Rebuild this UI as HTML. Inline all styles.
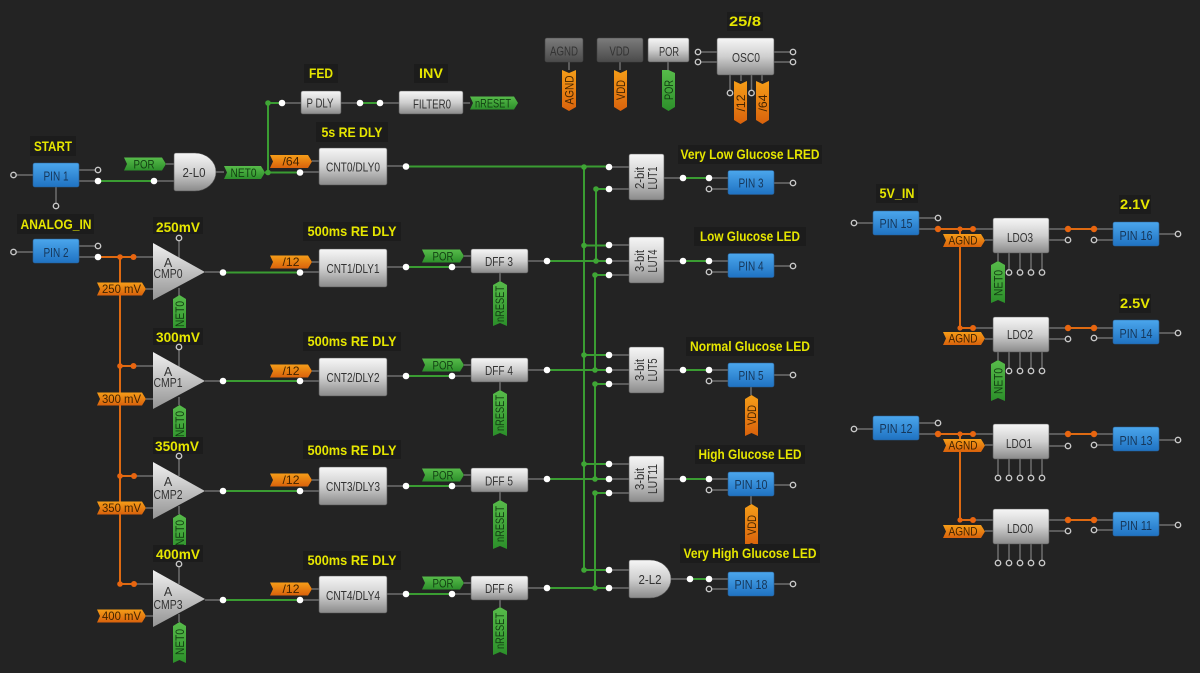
<!DOCTYPE html>
<html><head><meta charset="utf-8"><style>
html,body{margin:0;padding:0;background:#232323}
svg{display:block}
text{font-family:"Liberation Sans",sans-serif;text-anchor:middle}
.n{fill:url(#gn);stroke:#555;stroke-width:.6}
.d{fill:url(#gd);stroke:#444;stroke-width:.6}
.p{fill:url(#gb);stroke:#2a5f94;stroke-width:.6}
.fg{fill:url(#gg)}
.fo{fill:url(#go)}
.f{fill:#fff}
.o{fill:#232323;stroke:#c8c8c8;stroke-width:1.4}
.jg{fill:#3fa535}
.jo{fill:#e8650f}
.t{font-size:12.5px;fill:#333}
.tp{font-size:12.5px;fill:#16375a}
.tg{font-size:12px;fill:#123f12}
.to{font-size:12px;fill:#432400}
.l{font-size:14px;font-weight:bold;fill:#e6e600}
.lb{fill:#1c1c1c}
</style></head><body>
<svg width="1200" height="673" viewBox="0 0 1200 673" xmlns="http://www.w3.org/2000/svg">
<defs>
<linearGradient id="gn" x1="0" y1="0" x2="0" y2="1"><stop offset="0" stop-color="#f6f6f6"/><stop offset=".5" stop-color="#cfcfcf"/><stop offset="1" stop-color="#8a8a8a"/></linearGradient>
<linearGradient id="gd" x1="0" y1="0" x2="0" y2="1"><stop offset="0" stop-color="#7c7c7c"/><stop offset="1" stop-color="#4a4a4a"/></linearGradient>
<linearGradient id="gb" x1="0" y1="0" x2="0" y2="1"><stop offset="0" stop-color="#4ba6ec"/><stop offset="1" stop-color="#1f72c2"/></linearGradient>
<linearGradient id="gg" x1="0" y1="0" x2="0" y2="1"><stop offset="0" stop-color="#57bb4a"/><stop offset="1" stop-color="#2c8f2a"/></linearGradient>
<linearGradient id="go" x1="0" y1="0" x2="0" y2="1"><stop offset="0" stop-color="#f59d18"/><stop offset="1" stop-color="#d9620c"/></linearGradient>
<linearGradient id="gt" x1="0" y1="0" x2="0" y2="1"><stop offset="0" stop-color="#f0f0f0"/><stop offset="1" stop-color="#949494"/></linearGradient>
</defs>
<rect width="1200" height="673" fill="#232323"/>

<!-- gray stubs -->
<path fill="none" stroke="#6e6e6e" stroke-width="1.5" d="
M13.5 175H33M79 170H98M79 181H98M56 187V206M154 181H174M166 164H174M216 172H224
M300 172H319M312 161H319M387 166H406M282 103H301M341 103H360M380 103H399M463 103H470
M13.5 252H33M79 246H98M79 257H98M133 257H153M146 289H153M205 272H223M179 238V258M179 288V296
M300 272H319M312 262H319M387 267H406M452 267H471M464 256H471M528 261H547M500 273V281
M609 167H629M609 189H629M664 178H683M709 178H728M709 189H728M774 183H793
M609 245H629M609 261H629M609 275H629M664 261H683M709 261H728M709 272H728M774 266H793
M133 366H153M146 399H153M205 381H223M179 347V367M179 397V405
M300 381H319M312 371H319M387 376H406M452 376H471M464 365H471M528 370H547M500 382V390
M609 355H629M609 370H629M609 384H629M664 370H683M709 370H728M709 381H728M774 375H793M751 387V395
M134 476H153M146 508H153M205 491H223M179 456V476M179 506V514
M300 491H319M312 480H319M387 486H406M452 486H471M464 475H471M528 479H547M500 492V500
M609 464H629M609 479H629M609 493H629M664 479H683M709 479H728M709 490H728M774 485H793M751 496V504
M134 584H153M146 616H153M205 600H223M179 564V584M179 614V622
M300 600H319M312 589H319M387 594H406M452 594H471M464 583H471M528 588H547M500 600V607
M609 570H629M609 588H629M671 579H690M709 579H728M709 589H728M774 584H793
M854 223H873M919 218H938M919 229H938M973 229H993M985 240H993M1049 229H1068M1049 240H1068M1094 229H1113M1094 240H1113M1159 234H1178
M998 253V261M1009 253V272M1020 253V272M1031 253V272M1042 253V272
M973 328H993M985 339H993M1049 328H1068M1049 339H1068M1094 328H1113M1094 338H1113M1159 333H1178
M998 352V360M1009 352V371M1020 352V371M1031 352V371M1042 352V371
M854 429H873M919 423H938M919 434H938M973 434H993M985 445H993M1049 434H1068M1049 446H1068M1094 434H1113M1094 445H1113M1159 440H1178
M998 459V478M1009 459V478M1020 459V478M1031 459V478M1042 459V478
M973 520H993M985 531H993M1049 520H1068M1049 531H1068M1094 520H1113M1094 530H1113M1159 525H1178
M998 544V563M1009 544V563M1020 544V563M1031 544V563M1042 544V563
M569 62V70M620 62V70M668 62V70M698 52H717M698 62H717M774 52H793M774 62H793M730 75V93M741 75V81M751.5 75V93M762 75V81"/>

<!-- green wires -->
<path fill="none" stroke="#3a9c32" stroke-width="2" d="
M98 181H154M265 172.500H300M268 172.500V103H282M360 103H380M406 166.500H609
M223 272.500H300M406 267H452M547 261H609
M223 381H300M406 376H452M547 370H609
M223 491H300M406 486H452M547 479H609
M223 600H300M406 594H452M547 588H609
M584 167V570M596 189V261M595 275V370M595 384V479M595 493V588
M596 189H609M584 245.500H609M595 275H609M584 355H609M595 384H609M584 464H609M595 493H609M584 570H609
M683 178H709M683 261H709M683 370H709M683 479H709M690 579H709"/>
<!-- orange wires -->
<path fill="none" stroke="#de6a12" stroke-width="2" d="
M98 257H133M120 257V584H134M120 366H133M120 476H134
M938 229H973M960 229V328H973M1068 229H1094M1068 328H1094
M938 434H973M960 434V520H973M1068 434H1094M1068 520H1094"/>

<!-- orange horizontal flags -->
<g class="fo">
<polygon points="270,155 308,155 312,161.500 308,168 270,168 273,161.500"/>
<polygon points="270,255.500 308,255.500 312,262 308,268.500 270,268.500 273,262"/>
<polygon points="270,364.500 308,364.500 312,371 308,377.500 270,377.500 273,371"/>
<polygon points="270,473.500 308,473.500 312,480 308,486.500 270,486.500 273,480"/>
<polygon points="270,582.500 308,582.500 312,589 308,595.500 270,595.500 273,589"/>
<polygon points="97,282.500 142,282.500 146,289 142,295.500 97,295.500 100,289"/>
<polygon points="97,392.500 142,392.500 146,399 142,405.500 97,405.500 100,399"/>
<polygon points="97,501.500 142,501.500 146,508 142,514.500 97,514.500 100,508"/>
<polygon points="97,609.500 142,609.500 146,616 142,622.500 97,622.500 100,616"/>
<polygon points="943,234 981,234 985,240.500 981,247 943,247 946,240.500"/>
<polygon points="943,332 981,332 985,338.500 981,345 943,345 946,338.500"/>
<polygon points="943,439 981,439 985,445.500 981,452 943,452 946,445.500"/>
<polygon points="943,525 981,525 985,531.500 981,538 943,538 946,531.500"/>
</g>
<g class="to">
<text x="291" y="165.500" textLength="17" lengthAdjust="spacingAndGlyphs">/64</text>
<text x="291" y="266" textLength="17" lengthAdjust="spacingAndGlyphs">/12</text>
<text x="291" y="375" textLength="17" lengthAdjust="spacingAndGlyphs">/12</text>
<text x="291" y="484" textLength="17" lengthAdjust="spacingAndGlyphs">/12</text>
<text x="291" y="593" textLength="17" lengthAdjust="spacingAndGlyphs">/12</text>
<text x="121.500" y="293" textLength="39" lengthAdjust="spacingAndGlyphs">250 mV</text>
<text x="121.500" y="403" textLength="39" lengthAdjust="spacingAndGlyphs">300 mV</text>
<text x="121.500" y="512" textLength="39" lengthAdjust="spacingAndGlyphs">350 mV</text>
<text x="121.500" y="620" textLength="39" lengthAdjust="spacingAndGlyphs">400 mV</text>
<text x="963" y="244.500" textLength="29" lengthAdjust="spacingAndGlyphs">AGND</text>
<text x="963" y="342.500" textLength="29" lengthAdjust="spacingAndGlyphs">AGND</text>
<text x="963" y="449.500" textLength="29" lengthAdjust="spacingAndGlyphs">AGND</text>
<text x="963" y="535.500" textLength="29" lengthAdjust="spacingAndGlyphs">AGND</text>
</g>

<!-- green horizontal flags -->
<g class="fg">
<polygon points="124,157.500 162,157.500 166,164 162,170.500 124,170.500 127,164"/>
<polygon points="224,166 261,166 265,172.500 261,179 224,179 227,172.500"/>
<polygon points="470,96.500 514,96.500 518,103 514,109.500 470,109.500 473,103"/>
<polygon points="422,249.500 460,249.500 464,256 460,262.500 422,262.500 425,256"/>
<polygon points="422,358.500 460,358.500 464,365 460,371.500 422,371.500 425,365"/>
<polygon points="422,468.500 460,468.500 464,475 460,481.500 422,481.500 425,475"/>
<polygon points="422,576.500 460,576.500 464,583 460,589.500 422,589.500 425,583"/>
</g>
<g class="tg">
<text x="144" y="168.500" textLength="21" lengthAdjust="spacingAndGlyphs">POR</text>
<text x="243.500" y="177" textLength="26" lengthAdjust="spacingAndGlyphs">NET0</text>
<text x="493" y="107.500" textLength="36" lengthAdjust="spacingAndGlyphs">nRESET</text>
<text x="443" y="260.500" textLength="21" lengthAdjust="spacingAndGlyphs">POR</text>
<text x="443" y="369.500" textLength="21" lengthAdjust="spacingAndGlyphs">POR</text>
<text x="443" y="479.500" textLength="21" lengthAdjust="spacingAndGlyphs">POR</text>
<text x="443" y="587.500" textLength="21" lengthAdjust="spacingAndGlyphs">POR</text>
</g>

<!-- vertical flags -->
<g class="fg">
<polygon points="179.500,295 186,299 186,335 179.500,332 173,335 173,299"/>
<polygon points="179.500,405 186,409 186,445 179.500,442 173,445 173,409"/>
<polygon points="179.500,514 186,518 186,552 179.500,549 173,552 173,518"/>
<polygon points="179.500,622 186,626 186,663 179.500,660 173,663 173,626"/>
<polygon points="500,281 507,285 507,326 500,323 493,326 493,285"/>
<polygon points="500,390 507,394 507,436 500,433 493,436 493,394"/>
<polygon points="500,500 507,504 507,549 500,546 493,549 493,504"/>
<polygon points="500,607 507,611 507,655 500,652 493,655 493,611"/>
<polygon points="998,261 1005,265 1005,303 998,300 991,303 991,265"/>
<polygon points="998,360 1005,364 1005,401 998,398 991,401 991,364"/>
<polygon points="668.500,70 675,73 675,107 668.500,111 662,107 662,70"/>
</g>
<g class="fo">
<polygon points="751.500,395 758,399 758,436 751.500,433 745,436 745,399"/>
<polygon points="751.500,504 758,508 758,546 751.500,543 745,546 745,508"/>
<polygon points="562,70 569,73 576,70 576,107 569,111 562,107"/>
<polygon points="614,70 620.500,73 627,70 627,107 620.500,111 614,107"/>
<polygon points="734,81 740.500,84 747,81 747,120 740.500,124 734,120"/>
<polygon points="756,81 762.500,84 769,81 769,120 762.500,124 756,120"/>
</g>
<g class="tg">
<text transform="translate(184,314) rotate(-90)" textLength="26" lengthAdjust="spacingAndGlyphs">NET0</text>
<text transform="translate(184,424) rotate(-90)" textLength="26" lengthAdjust="spacingAndGlyphs">NET0</text>
<text transform="translate(184,533) rotate(-90)" textLength="26" lengthAdjust="spacingAndGlyphs">NET0</text>
<text transform="translate(184,642) rotate(-90)" textLength="26" lengthAdjust="spacingAndGlyphs">NET0</text>
<text transform="translate(504,304) rotate(-90)" textLength="36" lengthAdjust="spacingAndGlyphs">nRESET</text>
<text transform="translate(504,413) rotate(-90)" textLength="36" lengthAdjust="spacingAndGlyphs">nRESET</text>
<text transform="translate(504,524) rotate(-90)" textLength="36" lengthAdjust="spacingAndGlyphs">nRESET</text>
<text transform="translate(504,631) rotate(-90)" textLength="36" lengthAdjust="spacingAndGlyphs">nRESET</text>
<text transform="translate(1002.500,283) rotate(-90)" textLength="26" lengthAdjust="spacingAndGlyphs">NET0</text>
<text transform="translate(1002.500,381) rotate(-90)" textLength="26" lengthAdjust="spacingAndGlyphs">NET0</text>
<text transform="translate(673,90) rotate(-90)" textLength="20" lengthAdjust="spacingAndGlyphs">POR</text>
</g>
<g class="to">
<text transform="translate(756,415) rotate(-90)" textLength="20" lengthAdjust="spacingAndGlyphs">VDD</text>
<text transform="translate(756,525) rotate(-90)" textLength="20" lengthAdjust="spacingAndGlyphs">VDD</text>
<text transform="translate(573.500,90) rotate(-90)" textLength="29" lengthAdjust="spacingAndGlyphs">AGND</text>
<text transform="translate(625,90) rotate(-90)" textLength="20" lengthAdjust="spacingAndGlyphs">VDD</text>
<text transform="translate(745,103) rotate(-90)" textLength="17" lengthAdjust="spacingAndGlyphs">/12</text>
<text transform="translate(767,103) rotate(-90)" textLength="17" lengthAdjust="spacingAndGlyphs">/64</text>
</g>

<!-- blue pins -->
<g class="p">
<rect x="33" y="163" width="46" height="24" rx="2"/>
<rect x="33" y="239" width="46" height="24" rx="2"/>
<rect x="728" y="170.500" width="46" height="24" rx="2"/>
<rect x="728" y="253.500" width="46" height="24" rx="2"/>
<rect x="728" y="363" width="46" height="24" rx="2"/>
<rect x="728" y="472" width="46" height="24" rx="2"/>
<rect x="728" y="572" width="46" height="24" rx="2"/>
<rect x="873" y="211" width="46" height="24" rx="2"/>
<rect x="1113" y="222" width="46" height="24" rx="2"/>
<rect x="1113" y="320" width="46" height="24" rx="2"/>
<rect x="873" y="416" width="46" height="24" rx="2"/>
<rect x="1113" y="427" width="46" height="24" rx="2"/>
<rect x="1113" y="512" width="46" height="24" rx="2"/>
</g>
<g class="tp">
<text x="56" y="180.500" textLength="25" lengthAdjust="spacingAndGlyphs">PIN 1</text>
<text x="56" y="257" textLength="25" lengthAdjust="spacingAndGlyphs">PIN 2</text>
<text x="751" y="187.500" textLength="25" lengthAdjust="spacingAndGlyphs">PIN 3</text>
<text x="751" y="270.500" textLength="25" lengthAdjust="spacingAndGlyphs">PIN 4</text>
<text x="751" y="380" textLength="25" lengthAdjust="spacingAndGlyphs">PIN 5</text>
<text x="751" y="489" textLength="33" lengthAdjust="spacingAndGlyphs">PIN 10</text>
<text x="751" y="589" textLength="33" lengthAdjust="spacingAndGlyphs">PIN 18</text>
<text x="896" y="228" textLength="33" lengthAdjust="spacingAndGlyphs">PIN 15</text>
<text x="1136" y="240" textLength="33" lengthAdjust="spacingAndGlyphs">PIN 16</text>
<text x="1136" y="338" textLength="33" lengthAdjust="spacingAndGlyphs">PIN 14</text>
<text x="896" y="433" textLength="33" lengthAdjust="spacingAndGlyphs">PIN 12</text>
<text x="1136" y="445" textLength="33" lengthAdjust="spacingAndGlyphs">PIN 13</text>
<text x="1136" y="530" textLength="32" lengthAdjust="spacingAndGlyphs">PIN 11</text>
</g>

<!-- gray nodes -->
<g class="n">
<path d="M174 155a2 2 0 0 1 2-2H195A21 19 0 0 1 195 191H176a2 2 0 0 1-2-2Z"/>
<path d="M629 562a2 2 0 0 1 2-2H650A21 19 0 0 1 650 598H631a2 2 0 0 1-2-2Z"/>
<rect x="301" y="91" width="40" height="23" rx="2"/>
<rect x="399" y="91" width="64" height="23" rx="2"/>
<rect x="319" y="148" width="68" height="37" rx="2"/>
<rect x="319" y="249" width="68" height="38" rx="2"/>
<rect x="319" y="358" width="68" height="38" rx="2"/>
<rect x="319" y="467" width="68" height="38" rx="2"/>
<rect x="319" y="576" width="68" height="37" rx="2"/>
<rect x="471" y="249" width="57" height="24" rx="2"/>
<rect x="471" y="358" width="57" height="24" rx="2"/>
<rect x="471" y="468" width="57" height="24" rx="2"/>
<rect x="471" y="576" width="57" height="24" rx="2"/>
<rect x="629" y="154" width="35" height="46" rx="2"/>
<rect x="629" y="237" width="35" height="46" rx="2"/>
<rect x="629" y="347" width="35" height="46" rx="2"/>
<rect x="629" y="456" width="35" height="46" rx="2"/>
<rect x="648" y="38" width="41" height="24" rx="2"/>
<rect x="717" y="38" width="57" height="37" rx="2"/>
<rect x="993" y="218" width="56" height="35" rx="2"/>
<rect x="993" y="317" width="56" height="35" rx="2"/>
<rect x="993" y="424" width="56" height="35" rx="2"/>
<rect x="993" y="509" width="56" height="35" rx="2"/>
</g>
<g fill="url(#gt)">
<polygon points="153,243 205,272 153,300"/>
<polygon points="153,352 205,381 153,409"/>
<polygon points="153,462 205,491 153,519"/>
<polygon points="153,570 205,599 153,627"/>
</g>
<g class="d">
<rect x="545" y="38" width="38" height="24" rx="2"/>
<rect x="597" y="38" width="46" height="24" rx="2"/>
</g>
<g class="t">
<text x="194" y="177" textLength="23" lengthAdjust="spacingAndGlyphs">2-L0</text>
<text x="650" y="584" textLength="23" lengthAdjust="spacingAndGlyphs">2-L2</text>
<text x="320" y="107.500" textLength="27" lengthAdjust="spacingAndGlyphs">P DLY</text>
<text x="432" y="108.500" textLength="38" lengthAdjust="spacingAndGlyphs">FILTER0</text>
<text x="353" y="171.500" textLength="54" lengthAdjust="spacingAndGlyphs">CNT0/DLY0</text>
<text x="353" y="273" textLength="53" lengthAdjust="spacingAndGlyphs">CNT1/DLY1</text>
<text x="353" y="382" textLength="53" lengthAdjust="spacingAndGlyphs">CNT2/DLY2</text>
<text x="353" y="491" textLength="54" lengthAdjust="spacingAndGlyphs">CNT3/DLY3</text>
<text x="353" y="600" textLength="54" lengthAdjust="spacingAndGlyphs">CNT4/DLY4</text>
<text x="499" y="266" textLength="28" lengthAdjust="spacingAndGlyphs">DFF 3</text>
<text x="499" y="375" textLength="28" lengthAdjust="spacingAndGlyphs">DFF 4</text>
<text x="499" y="485.500" textLength="28" lengthAdjust="spacingAndGlyphs">DFF 5</text>
<text x="499" y="593" textLength="28" lengthAdjust="spacingAndGlyphs">DFF 6</text>
<text transform="translate(644,178) rotate(-90)" textLength="22" lengthAdjust="spacingAndGlyphs">2-bit</text>
<text transform="translate(657,178) rotate(-90)" textLength="23" lengthAdjust="spacingAndGlyphs">LUT1</text>
<text transform="translate(644,261) rotate(-90)" textLength="22" lengthAdjust="spacingAndGlyphs">3-bit</text>
<text transform="translate(657,261) rotate(-90)" textLength="23" lengthAdjust="spacingAndGlyphs">LUT4</text>
<text transform="translate(644,370) rotate(-90)" textLength="22" lengthAdjust="spacingAndGlyphs">3-bit</text>
<text transform="translate(657,370) rotate(-90)" textLength="23" lengthAdjust="spacingAndGlyphs">LUT5</text>
<text transform="translate(644,479) rotate(-90)" textLength="22" lengthAdjust="spacingAndGlyphs">3-bit</text>
<text transform="translate(657,479) rotate(-90)" textLength="30" lengthAdjust="spacingAndGlyphs">LUT11</text>
<text x="669" y="56" textLength="20" lengthAdjust="spacingAndGlyphs">POR</text>
<text x="746" y="62" textLength="28" lengthAdjust="spacingAndGlyphs">OSC0</text>
<text x="564" y="55.500" textLength="28" lengthAdjust="spacingAndGlyphs">AGND</text>
<text x="619.500" y="55.500" textLength="20" lengthAdjust="spacingAndGlyphs">VDD</text>
<text x="1020" y="242" textLength="26" lengthAdjust="spacingAndGlyphs">LDO3</text>
<text x="1020" y="339" textLength="26" lengthAdjust="spacingAndGlyphs">LDO2</text>
<text x="1019" y="448" textLength="26" lengthAdjust="spacingAndGlyphs">LDO1</text>
<text x="1020" y="533" textLength="26" lengthAdjust="spacingAndGlyphs">LDO0</text>
<text x="168" y="267">A</text><text x="168" y="278" textLength="29" lengthAdjust="spacingAndGlyphs">CMP0</text>
<text x="168" y="376">A</text><text x="168" y="387" textLength="29" lengthAdjust="spacingAndGlyphs">CMP1</text>
<text x="168" y="486">A</text><text x="168" y="499" textLength="29" lengthAdjust="spacingAndGlyphs">CMP2</text>
<text x="168" y="596">A</text><text x="168" y="609" textLength="29" lengthAdjust="spacingAndGlyphs">CMP3</text>
</g>

<!-- label backgrounds -->
<g class="lb">
<rect x="30" y="136" width="46" height="20"/><rect x="17" y="214" width="77" height="20"/>
<rect x="304" y="64" width="34" height="19"/><rect x="414" y="64" width="34" height="19"/><rect x="316" y="122" width="72" height="20"/>
<rect x="727" y="12" width="36" height="19"/>
<rect x="153" y="217" width="50" height="17"/><rect x="153" y="328" width="50" height="17"/><rect x="153" y="437" width="50" height="17"/><rect x="153" y="545" width="50" height="17"/>
<rect x="303" y="222" width="98" height="19"/><rect x="303" y="332" width="98" height="19"/><rect x="303" y="440" width="98" height="19"/><rect x="303" y="551" width="98" height="19"/>
<rect x="678" y="145" width="144" height="19"/><rect x="694" y="227" width="112" height="19"/><rect x="686" y="337" width="128" height="19"/><rect x="695" y="445" width="110" height="19"/><rect x="680" y="544" width="140" height="19"/>
<rect x="876" y="184" width="42" height="19"/><rect x="1119" y="195" width="32" height="19"/><rect x="1119" y="294" width="32" height="19"/>
</g>

<!-- open ports -->
<g class="o">
<circle cx="13.500" cy="175" r="2.700"/><circle cx="98" cy="170" r="2.700"/><circle cx="56" cy="206" r="2.700"/>
<circle cx="13.500" cy="252" r="2.700"/><circle cx="98" cy="246" r="2.700"/>
<circle cx="179" cy="238" r="2.700"/><circle cx="179" cy="347" r="2.700"/><circle cx="179" cy="456" r="2.700"/><circle cx="179" cy="564" r="2.700"/>
<circle cx="709" cy="189" r="2.700"/><circle cx="793" cy="183" r="2.700"/>
<circle cx="709" cy="272" r="2.700"/><circle cx="793" cy="266" r="2.700"/>
<circle cx="709" cy="381" r="2.700"/><circle cx="793" cy="375" r="2.700"/>
<circle cx="709" cy="490" r="2.700"/><circle cx="793" cy="485" r="2.700"/>
<circle cx="709" cy="589" r="2.700"/><circle cx="793" cy="584" r="2.700"/>
<circle cx="698" cy="52" r="2.700"/><circle cx="698" cy="62" r="2.700"/><circle cx="793" cy="52" r="2.700"/><circle cx="793" cy="62" r="2.700"/><circle cx="730" cy="93" r="2.700"/><circle cx="751.500" cy="93" r="2.700"/>
<circle cx="854" cy="223" r="2.700"/><circle cx="938" cy="218" r="2.700"/><circle cx="1068" cy="240" r="2.700"/><circle cx="1094" cy="240" r="2.700"/><circle cx="1178" cy="234" r="2.700"/>
<circle cx="1009" cy="272.500" r="2.700"/><circle cx="1020" cy="272.500" r="2.700"/><circle cx="1031" cy="272.500" r="2.700"/><circle cx="1042" cy="272.500" r="2.700"/>
<circle cx="1068" cy="339" r="2.700"/><circle cx="1094" cy="338" r="2.700"/><circle cx="1178" cy="333" r="2.700"/>
<circle cx="1009" cy="371" r="2.700"/><circle cx="1020" cy="371" r="2.700"/><circle cx="1031" cy="371" r="2.700"/><circle cx="1042" cy="371" r="2.700"/>
<circle cx="854" cy="429" r="2.700"/><circle cx="938" cy="423" r="2.700"/><circle cx="1068" cy="446" r="2.700"/><circle cx="1094" cy="445" r="2.700"/><circle cx="1178" cy="440" r="2.700"/>
<circle cx="998" cy="478" r="2.700"/><circle cx="1009" cy="478" r="2.700"/><circle cx="1020" cy="478" r="2.700"/><circle cx="1031" cy="478" r="2.700"/><circle cx="1042" cy="478" r="2.700"/>
<circle cx="1068" cy="531" r="2.700"/><circle cx="1094" cy="530" r="2.700"/><circle cx="1178" cy="525" r="2.700"/>
<circle cx="998" cy="563" r="2.700"/><circle cx="1009" cy="563" r="2.700"/><circle cx="1020" cy="563" r="2.700"/><circle cx="1031" cy="563" r="2.700"/><circle cx="1042" cy="563" r="2.700"/>
</g>

<!-- filled white ports -->
<g class="f">
<circle cx="98" cy="181" r="3.300"/><circle cx="154" cy="181" r="3.300"/><circle cx="282" cy="103" r="3.300"/><circle cx="360" cy="103" r="3.300"/><circle cx="380" cy="103" r="3.300"/>
<circle cx="300" cy="172.500" r="3.300"/><circle cx="406" cy="166.500" r="3.300"/><circle cx="98" cy="257" r="3.300"/>
<circle cx="223" cy="272.500" r="3.300"/><circle cx="300" cy="272.500" r="3.300"/><circle cx="406" cy="267" r="3.300"/><circle cx="452" cy="267" r="3.300"/><circle cx="547" cy="261" r="3.300"/>
<circle cx="223" cy="381" r="3.300"/><circle cx="300" cy="381" r="3.300"/><circle cx="406" cy="376" r="3.300"/><circle cx="452" cy="376" r="3.300"/><circle cx="547" cy="370" r="3.300"/>
<circle cx="223" cy="491" r="3.300"/><circle cx="300" cy="491" r="3.300"/><circle cx="406" cy="486" r="3.300"/><circle cx="452" cy="486" r="3.300"/><circle cx="547" cy="479" r="3.300"/>
<circle cx="223" cy="600" r="3.300"/><circle cx="300" cy="600" r="3.300"/><circle cx="406" cy="594" r="3.300"/><circle cx="452" cy="594" r="3.300"/><circle cx="547" cy="588" r="3.300"/>
<circle cx="609" cy="167" r="3.300"/><circle cx="609" cy="189" r="3.300"/><circle cx="609" cy="245" r="3.300"/><circle cx="609" cy="261" r="3.300"/><circle cx="609" cy="275" r="3.300"/>
<circle cx="609" cy="355" r="3.300"/><circle cx="609" cy="370" r="3.300"/><circle cx="609" cy="384" r="3.300"/>
<circle cx="609" cy="464" r="3.300"/><circle cx="609" cy="479" r="3.300"/><circle cx="609" cy="493" r="3.300"/>
<circle cx="609" cy="570" r="3.300"/><circle cx="609" cy="588" r="3.300"/>
<circle cx="683" cy="178" r="3.300"/><circle cx="709" cy="178" r="3.300"/><circle cx="683" cy="261" r="3.300"/><circle cx="709" cy="261" r="3.300"/>
<circle cx="683" cy="370" r="3.300"/><circle cx="709" cy="370" r="3.300"/><circle cx="683" cy="479" r="3.300"/><circle cx="709" cy="479" r="3.300"/>
<circle cx="690" cy="579" r="3.300"/><circle cx="709" cy="579" r="3.300"/>
</g>

<!-- junctions -->
<g class="jg">
<circle cx="268" cy="103" r="2.800"/><circle cx="268" cy="172.500" r="2.800"/>
<circle cx="584" cy="167" r="2.800"/><circle cx="596" cy="189" r="2.800"/><circle cx="584" cy="245.500" r="2.800"/><circle cx="596" cy="261" r="2.800"/><circle cx="595" cy="275" r="2.800"/>
<circle cx="584" cy="355" r="2.800"/><circle cx="595" cy="370" r="2.800"/><circle cx="595" cy="384" r="2.800"/>
<circle cx="584" cy="464" r="2.800"/><circle cx="595" cy="479" r="2.800"/><circle cx="595" cy="493" r="2.800"/>
<circle cx="584" cy="570" r="2.800"/><circle cx="595" cy="588" r="2.800"/>
</g>
<g class="jo">
<circle cx="120" cy="257" r="2.800"/><circle cx="133.500" cy="257" r="3"/>
<circle cx="120" cy="366" r="2.800"/><circle cx="133.500" cy="366" r="3"/>
<circle cx="120" cy="476" r="2.800"/><circle cx="134" cy="476" r="3"/>
<circle cx="120" cy="584" r="2.800"/><circle cx="134" cy="584" r="3"/>
<circle cx="938" cy="229" r="3.200"/><circle cx="960" cy="229" r="2.600"/><circle cx="973" cy="229" r="3"/><circle cx="1068" cy="229" r="3.200"/><circle cx="1094" cy="229" r="3.200"/>
<circle cx="960" cy="328" r="2.600"/><circle cx="973" cy="328" r="3"/><circle cx="1068" cy="328" r="3.200"/><circle cx="1094" cy="328" r="3.200"/>
<circle cx="938" cy="434" r="3.200"/><circle cx="960" cy="434" r="2.600"/><circle cx="973" cy="434" r="3"/><circle cx="1068" cy="434" r="3.200"/><circle cx="1094" cy="434" r="3.200"/>
<circle cx="960" cy="520" r="2.600"/><circle cx="973" cy="520" r="3"/><circle cx="1068" cy="520" r="3.200"/><circle cx="1094" cy="520" r="3.200"/>
</g>

<g class="l">
<text x="53" y="151" textLength="38" lengthAdjust="spacingAndGlyphs">START</text>
<text x="56" y="229" textLength="71" lengthAdjust="spacingAndGlyphs">ANALOG_IN</text>
<text x="321" y="78" textLength="24" lengthAdjust="spacingAndGlyphs">FED</text>
<text x="431" y="78" textLength="24" lengthAdjust="spacingAndGlyphs">INV</text>
<text x="352" y="137" textLength="61" lengthAdjust="spacingAndGlyphs">5s RE DLY</text>
<text x="745" y="26" textLength="32" lengthAdjust="spacingAndGlyphs">25/8</text>
<text x="178" y="232" textLength="44" lengthAdjust="spacingAndGlyphs">250mV</text>
<text x="178" y="342" textLength="44" lengthAdjust="spacingAndGlyphs">300mV</text>
<text x="177" y="451" textLength="44" lengthAdjust="spacingAndGlyphs">350mV</text>
<text x="178" y="559" textLength="44" lengthAdjust="spacingAndGlyphs">400mV</text>
<text x="352" y="236" textLength="89" lengthAdjust="spacingAndGlyphs">500ms RE DLY</text>
<text x="352" y="346" textLength="89" lengthAdjust="spacingAndGlyphs">500ms RE DLY</text>
<text x="352" y="455" textLength="89" lengthAdjust="spacingAndGlyphs">500ms RE DLY</text>
<text x="352" y="565" textLength="89" lengthAdjust="spacingAndGlyphs">500ms RE DLY</text>
<text x="750" y="159" textLength="139" lengthAdjust="spacingAndGlyphs">Very Low Glucose LRED</text>
<text x="750" y="241" textLength="100" lengthAdjust="spacingAndGlyphs">Low Glucose LED</text>
<text x="750" y="351" textLength="120" lengthAdjust="spacingAndGlyphs">Normal Glucose LED</text>
<text x="750" y="459" textLength="103" lengthAdjust="spacingAndGlyphs">High Glucose LED</text>
<text x="750" y="558" textLength="133" lengthAdjust="spacingAndGlyphs">Very High Glucose LED</text>
<text x="897" y="198" textLength="35" lengthAdjust="spacingAndGlyphs">5V_IN</text>
<text x="1135" y="209" textLength="30" lengthAdjust="spacingAndGlyphs">2.1V</text>
<text x="1135" y="308" textLength="30" lengthAdjust="spacingAndGlyphs">2.5V</text>
</g>
</svg>
</body></html>
